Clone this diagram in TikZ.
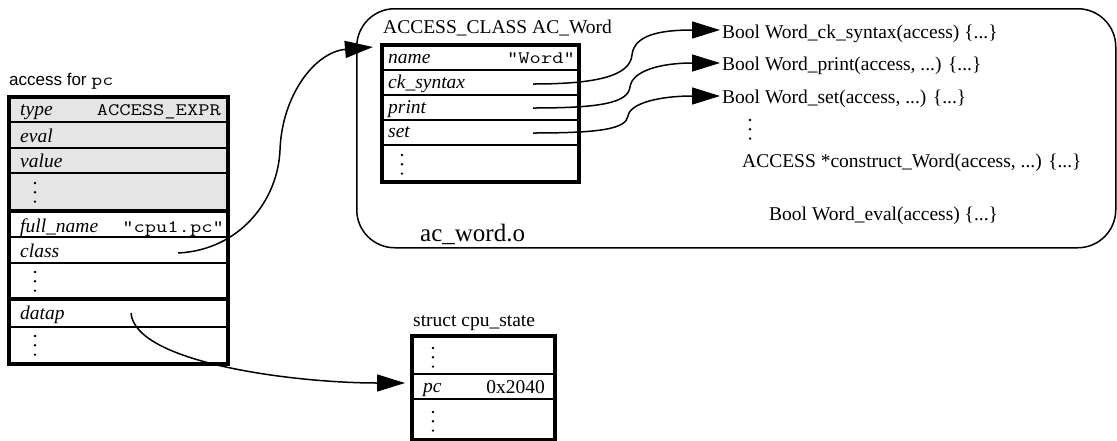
\documentclass[tikz,border=0pt]{standalone}
\usepackage{fontspec}
\setmainfont{Liberation Serif}
\setmonofont{Latin Modern Mono}[FakeStretch=1.25]
\newfontfamily\hsans{Liberation Sans}
\usetikzlibrary{arrows.meta}
\definecolor{cellgray}{RGB}{229,229,229}
\tikzset{
  cell/.style={draw, line width=1.6pt, anchor=north west, inner sep=0pt, outer sep=0pt},
  frame/.style={line width=3.2pt},
  lbl/.style={inner sep=0pt, anchor=base west, font=\fontsize{19.5}{22}\selectfont},
  fld/.style={lbl, font=\fontsize{19.5}{22}\selectfont\itshape},
  val/.style={inner sep=0pt, anchor=base east, font=\ttfamily\fontsize{17.5}{20}\selectfont},
  ptr/.style={line width=1.5pt, -{Triangle[length=28pt,width=17pt]}},
  vdots3/.pic={\fill (0,0) circle (1.35) (0,9.3) circle (1.35) (0,18.6) circle (1.35);}
}
\begin{document}
\begin{tikzpicture}[x=1pt,y=-1pt]
\useasboundingbox (0,0) rectangle (1117,440);

% object module ac_word.o
\node[draw, line width=1.5pt, rounded corners=38pt, anchor=north west, inner sep=0pt,
      minimum width=759pt, minimum height=239pt] (module) at (356,8) {};
\node[lbl, font=\fontsize{25}{28}\selectfont] (modname) at (420,241) {ac\_word.o};

% the access record for pc
\node[inner sep=0pt, anchor=base west] (a-title) at (9,85)
  {\hsans\fontsize{17}{20}\selectfont access for {\ttfamily\fontsize{17}{20}\selectfont pc}};
\node[cell, fill=cellgray, minimum width=219pt, minimum height=25pt] (a-type)  at (9,97)  {};
\node[cell, fill=cellgray, minimum width=219pt, minimum height=26pt] (a-eval)  at (9,122) {};
\node[cell, fill=cellgray, minimum width=219pt, minimum height=25pt] (a-value) at (9,148) {};
\node[cell, fill=cellgray, minimum width=219pt, minimum height=38pt] (a-more1) at (9,173) {};
\node[cell, minimum width=219pt, minimum height=26pt] (a-full)  at (9,211) {};
\node[cell, minimum width=219pt, minimum height=26pt] (a-class) at (9,237) {};
\node[cell, minimum width=219pt, minimum height=36pt] (a-more2) at (9,263) {};
\node[cell, minimum width=219pt, minimum height=28pt] (a-datap) at (9,299) {};
\node[cell, minimum width=219pt, minimum height=37pt] (a-more3) at (9,327) {};
\draw[frame] (a-type.north west) rectangle (a-more3.south east);
\draw[frame] (a-more1.south west) -- (a-more1.south east);
\draw[frame] (a-more2.south west) -- (a-more2.south east);

\node[fld] (t-type)  at (20,115) {type};
\node[val] (v-type)  at (221,115) {ACCESS\_EXPR};
\node[fld] (t-eval)  at (20,142) {eval};
\node[fld] (t-value) at (20,167) {value};
\pic at (35,183) {vdots3};
\node[fld] (t-full)  at (20,232) {full\_name};
\node[val] (v-full)  at (224,232) {"cpu1.pc"};
\node[fld] (t-class) at (20,257) {class};
\pic at (35,272) {vdots3};
\node[fld] (t-datap) at (20,319) {datap};
\pic at (35,336) {vdots3};

% the access class
\node[lbl] (c-title) at (383,33) {ACCESS\_CLASS AC\_Word};
\node[cell, minimum width=197pt, minimum height=25pt] (c-name)  at (382,45)  {};
\node[cell, minimum width=197pt, minimum height=25pt] (c-ck)    at (382,70)  {};
\node[cell, minimum width=197pt, minimum height=25pt] (c-print) at (382,95)  {};
\node[cell, minimum width=197pt, minimum height=25pt] (c-set)   at (382,120) {};
\node[cell, minimum width=197pt, minimum height=37pt] (c-more)  at (382,145) {};
\draw[frame] (c-name.north west) rectangle (c-more.south east);
\node[fld] (t-name)  at (388,63)  {name};
\node[val] (v-name)  at (575,63)  {"Word"};
\node[fld] (t-ck)    at (388,88)  {ck\_syntax};
\node[fld] (t-print) at (388,113) {print};
\node[fld] (t-set)   at (388,137) {set};
\pic at (402,155) {vdots3};

% functions of the module
\node[lbl] (f-ck)    at (722,38)  {Bool Word\_ck\_syntax(access) \{...\}};
\node[lbl] (f-print) at (722,70)  {Bool Word\_print(access, ...) \{...\}};
\node[lbl] (f-set)   at (722,103) {Bool Word\_set(access, ...) \{...\}};
\pic at (750,120) {vdots3};
\node[lbl] (f-cons)  at (742,167) {ACCESS *construct\_Word(access, ...) \{...\}};
\node[lbl] (f-eval)  at (769,220) {Bool Word\_eval(access) \{...\}};

% the cpu state
\node[lbl] (s-title) at (413,326) {struct cpu\_state};
\node[cell, minimum width=143pt, minimum height=38pt] (s-more1) at (412,336) {};
\node[cell, minimum width=143pt, minimum height=25pt] (s-pc)    at (412,374) {};
\node[cell, minimum width=143pt, minimum height=41pt] (s-more2) at (412,399) {};
\draw[frame] (s-more1.north west) rectangle (s-more2.south east);
\pic at (433,348) {vdots3};
\node[fld] (t-pc) at (423,392) {pc};
\node[lbl, anchor=base east] (v-pc) at (545,393) {0x2040};
\pic at (433,412) {vdots3};

% pointers
\coordinate (cls-src) at (178,253);
\coordinate (cls-dst) at ([xshift=-9pt,yshift=-2pt]c-name.north west);
\draw[ptr] (cls-src) .. controls (240,250) and (278,200) .. (280,150)
           .. controls (282,95) and (315,52) .. (cls-dst);

\coordinate (ck-src) at (533,84);
\coordinate (pr-src) at (533,108);
\coordinate (st-src) at (533,133);
\draw[ptr] (ck-src) .. controls +(67,0) and +(-2,20) .. (632,55)
           .. controls +(2,-20) and +(-60,0) .. ([xshift=-2pt,yshift=8pt]f-ck.base west);
\draw[ptr] (pr-src) .. controls +(67,0) and +(-2,16) .. (630,87)
           .. controls +(2,-16) and +(-60,0) .. ([xshift=-2pt,yshift=7pt]f-print.base west);
\draw[ptr] (st-src) .. controls +(67,0) and +(-2,13) .. (628,116)
           .. controls +(2,-13) and +(-60,0) .. ([xshift=-2pt,yshift=7pt]f-set.base west);

\coordinate (dp-src) at (131,313);
\draw[ptr] (dp-src) .. controls +(4,50) and +(-110,0) .. ([xshift=-7pt,yshift=3.5pt]s-pc.west);
\end{tikzpicture}
\end{document}
